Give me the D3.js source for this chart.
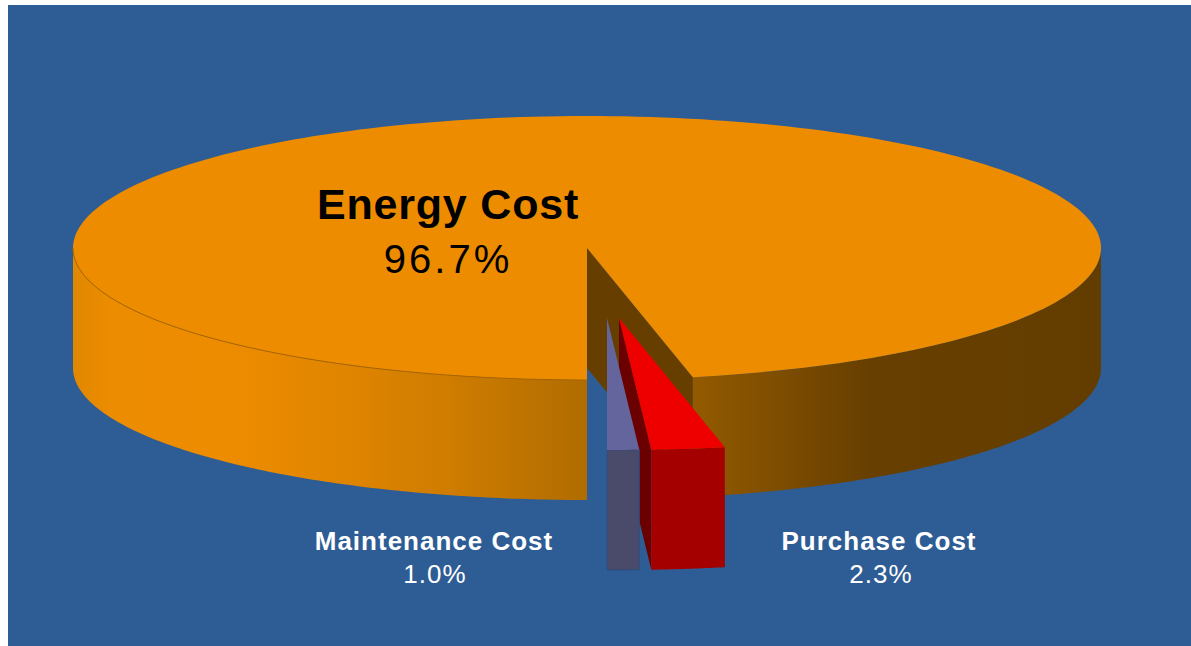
<!DOCTYPE html>
<html>
<head>
<meta charset="utf-8">
<script src="https://cdn.jsdelivr.net/npm/d3@7"></script>
<style>
    html, body { margin: 0; padding: 0; background: #fff; }
    svg { display: block; }
    text { font-family: "Liberation Sans", Arial, sans-serif; text-anchor: middle; }
</style>
</head>
<body>
<script>
// values in percent, in drawing order clockwise from 6 o'clock
var categories = ["Energy Cost", "Purchase Cost", "Maintenance Cost"];
var shares = [96.7, 2.3, 1.0];

var width = 1191, height = 646;
var cx = 587, cy = 248, rx = 514, ry = 132, depth = 120;

// how far each slice is pulled out of the pie
var explode = [[0, 0], [32, 70], [20, 70]];
var topColors = ["#ee8c00", "#ee0000", "#63659c"];
var cutColors = ["#663f00", "#6b0000", "#4a4a6b"];
var wallColors = ["url(#wall)", "#a40000", "#4a4a6b"];

var svg = d3.select("body").append("svg")
    .attr("width", width)
    .attr("height", height);

svg.append("rect")
    .attr("x", 8)
    .attr("y", 5)
    .attr("width", width - 8)
    .attr("height", height - 5)
    .attr("fill", "#2e5c94");

// banded shading along the rim
var wallStops = [
    [73, "#e08800"], [110, "#ec8c00"], [230, "#ee8c00"], [340, "#e08500"],
    [450, "#cf7c00"], [587, "#b06c00"], [694, "#935a00"], [780, "#7d4d00"],
    [870, "#673f00"], [1101, "#633d00"]
];
var wallScale = d3.scaleLinear().domain([73, 1101]).range([0, 100]);
svg.append("defs").append("linearGradient")
    .attr("id", "wall")
    .attr("gradientUnits", "userSpaceOnUse")
    .attr("gradientTransform", "translate(" + (-cx) + ",0)")
    .attr("x1", 73).attr("x2", 1101)
    .attr("y1", 0).attr("y2", 0)
    .selectAll("stop")
    .data(wallStops)
    .enter()
    .append("stop")
    .attr("offset", function(d) { return wallScale(d[0]) + "%"; })
    .attr("stop-color", function(d) { return d[1]; });

var slices = d3.pie()
    .sort(null)
    .startAngle(Math.PI)
    .endAngle(3 * Math.PI)(shares);

function rimX(a) { return rx * Math.sin(a); }
function rimY(a) { return -ry * Math.cos(a); }

// the part of an angle range that faces the viewer (3 to 9 o'clock)
function visibleRanges(a0, a1) {
    var ranges = [];
    [[Math.PI / 2, 3 * Math.PI / 2], [5 * Math.PI / 2, 7 * Math.PI / 2]].forEach(function(w) {
        var s = Math.max(a0, w[0]), e = Math.min(a1, w[1]);
        if (e > s) ranges.push([s, e]);
    });
    return ranges;
}

function wallPath(a0, a1) {
    var steps = d3.range(0, 121).map(function(i) { return a0 + (a1 - a0) * i / 120; });
    var pts = steps.map(function(a) { return [rimX(a), rimY(a)]; })
        .concat(steps.slice().reverse().map(function(a) { return [rimX(a), rimY(a) + depth]; }));
    return d3.line()(pts) + "Z";
}

function cutPath(a) {
    return d3.line()([[0, 0], [rimX(a), rimY(a)], [rimX(a), rimY(a) + depth], [0, depth]]) + "Z";
}

function topPath(a0, a1) {
    var steps = d3.range(0, 241).map(function(i) { return a0 + (a1 - a0) * i / 240; });
    var pts = [[0, 0]].concat(steps.map(function(a) { return [rimX(a), rimY(a)]; }));
    return d3.line()(pts) + "Z";
}

var groups = svg.selectAll(".slice")
    .data(slices)
    .enter()
    .append("g")
    .attr("class", "slice")
    .attr("transform", function(d, i) {
        return "translate(" + (cx + explode[i][0]) + "," + (cy + explode[i][1]) + ")";
    });

groups.each(function(d, i) {
    var g = d3.select(this);

    g.append("path")
        .attr("d", cutPath(d.endAngle))
        .attr("fill", cutColors[i]);

    visibleRanges(d.startAngle, d.endAngle).forEach(function(r) {
        g.append("path")
            .attr("d", wallPath(r[0], r[1]))
            .attr("fill", wallColors[i])
            .attr("stroke", i == 2 ? "#2f4f80" : "none")
            .attr("stroke-width", i == 2 ? 1 : 0);
    });

    g.append("path")
        .attr("d", topPath(d.startAngle, d.endAngle))
        .attr("fill", topColors[i]);

    // thin line where top meets wall
    if (i == 0) {
        g.append("path")
            .attr("d", d3.line()(d3.range(0, 91).map(function(k) {
                var a = Math.PI + (Math.PI / 2) * k / 90;
                return [rimX(a), rimY(a)];
            })))
            .attr("fill", "none")
            .attr("stroke", "#a86400")
            .attr("stroke-width", 1);
    }
});

var labels = [
    {x1: 448, x2: 448, y1: 219, y2: 273, s1: 43, s2: 40, fill: "#000", ls1: 0.8, ls2: 3},
    {x1: 879, x2: 881, y1: 550, y2: 583, s1: 26, s2: 26, fill: "#fff", ls1: 1, ls2: 1},
    {x1: 434, x2: 435, y1: 550, y2: 583, s1: 26, s2: 26, fill: "#fff", ls1: 1, ls2: 1}
];

labels.forEach(function(l, i) {
    svg.append("text")
        .attr("x", l.x1)
        .attr("y", l.y1)
        .attr("font-size", l.s1)
        .attr("font-weight", "bold")
        .attr("letter-spacing", l.ls1)
        .attr("fill", l.fill)
        .text(categories[i]);
    svg.append("text")
        .attr("x", l.x2)
        .attr("y", l.y2)
        .attr("font-size", l.s2)
        .attr("letter-spacing", l.ls2)
        .attr("fill", l.fill)
        .text(d3.format(".1f")(shares[i]) + "%");
});
</script>
</body>
</html>
